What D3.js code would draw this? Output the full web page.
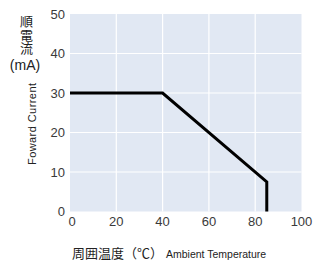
<!DOCTYPE html>
<html>
<head>
<meta charset="utf-8">
<script src="https://cdn.jsdelivr.net/npm/d3@7"></script>
<style>
  body { margin: 0; background: #fff; }
</style>
</head>
<body>
<svg class="chart" width="333" height="263"></svg>
<script>
// derating curve: forward current vs ambient temperature
var tempC = [0, 40, 85, 85];
var currentMA = [30, 30, 7.5, 0];
var xTicks = [0, 20, 40, 60, 80, 100];
var yTicks = [0, 10, 20, 30, 40, 50];

const PLOT_LEFT = 70;
const PLOT_RIGHT = 301.5;
const PLOT_TOP = 14;
const PLOT_BOTTOM = 211.5;
const TICK_FONT = "Liberation Sans, Arial, sans-serif";
const CJK_FONT = "Noto Sans CJK JP, sans-serif";

var chart = d3.select(".chart");

var x = d3.scaleLinear().domain([0, 100]).range([PLOT_LEFT, PLOT_RIGHT]);
var y = d3.scaleLinear().domain([0, 50]).range([PLOT_BOTTOM, PLOT_TOP]);

// plot background
chart.append("rect")
     .attr("x", x(0))
     .attr("y", y(50))
     .attr("width", x(100) - x(0))
     .attr("height", y(0) - y(50))
     .attr("fill", "#e1e8f3");

// grid lines
chart.append("g").selectAll("line")
     .data(xTicks.slice(1, -1))
     .enter().append("line")
     .attr("x1", function(d) { return x(d); })
     .attr("x2", function(d) { return x(d); })
     .attr("y1", y(0))
     .attr("y2", y(50))
     .attr("stroke", "#fff")
     .attr("stroke-width", 1.2);
chart.append("g").selectAll("line")
     .data(yTicks.slice(1, -1))
     .enter().append("line")
     .attr("x1", x(0))
     .attr("x2", x(100))
     .attr("y1", function(d) { return y(d); })
     .attr("y2", function(d) { return y(d); })
     .attr("stroke", "#fff")
     .attr("stroke-width", 1.2);

// tick labels
chart.append("g").selectAll("text")
     .data(yTicks)
     .enter().append("text")
     .attr("x", PLOT_LEFT - 5)
     .attr("y", function(d) { return y(d); })
     .attr("dy", ".35em")
     .attr("text-anchor", "end")
     .attr("font-family", TICK_FONT)
     .attr("font-size", "13px")
     .attr("fill", "#3a3a3a")
     .text(function(d) { return d; });
chart.append("g").selectAll("text")
     .data(xTicks)
     .enter().append("text")
     .attr("x", function(d) { return d == 0 ? x(d) + 2 : x(d); })
     .attr("y", PLOT_BOTTOM + 14)
     .attr("text-anchor", "middle")
     .attr("font-family", TICK_FONT)
     .attr("font-size", "13px")
     .attr("fill", "#3a3a3a")
     .text(function(d) { return d; });

// curve
var line = d3.line()
     .x(function(d) { return x(d[0]); })
     .y(function(d) { return y(d[1]); });
chart.append("path")
     .datum(d3.zip(tempC, currentMA))
     .attr("d", line)
     .attr("fill", "none")
     .attr("stroke", "#000")
     .attr("stroke-width", 3)
     .attr("stroke-linejoin", "miter");

// y axis title, vertical Japanese
chart.append("text")
     .attr("x", 26.5)
     .attr("y", 15)
     .style("writing-mode", "vertical-rl")
     .style("text-orientation", "upright")
     .attr("font-family", CJK_FONT)
     .attr("font-size", "13px")
     .attr("letter-spacing", 0.5)
     .attr("fill", "#222")
     .text("順電流");
chart.append("text")
     .attr("x", 25)
     .attr("y", 70)
     .attr("text-anchor", "middle")
     .attr("font-family", TICK_FONT)
     .attr("font-size", "14px")
     .attr("fill", "#222")
     .text("(mA)");
chart.append("text")
     .attr("transform", "translate(36,124) rotate(-90)")
     .attr("text-anchor", "middle")
     .attr("font-family", TICK_FONT)
     .attr("font-size", "11px")
     .attr("textLength", 82)
     .attr("fill", "#222")
     .text("Foward Current");

// x axis title
var xTitle = chart.append("text")
     .attr("x", 72)
     .attr("y", 258)
     .attr("fill", "#222");
xTitle.append("tspan")
      .attr("font-family", CJK_FONT)
      .attr("font-size", "13px")
      .text("周囲温度（℃）");
xTitle.append("tspan")
      .attr("dx", 3)
      .attr("font-family", TICK_FONT)
      .attr("font-size", "10.5px")
      .text("Ambient Temperature");
</script>
</body>
</html>
